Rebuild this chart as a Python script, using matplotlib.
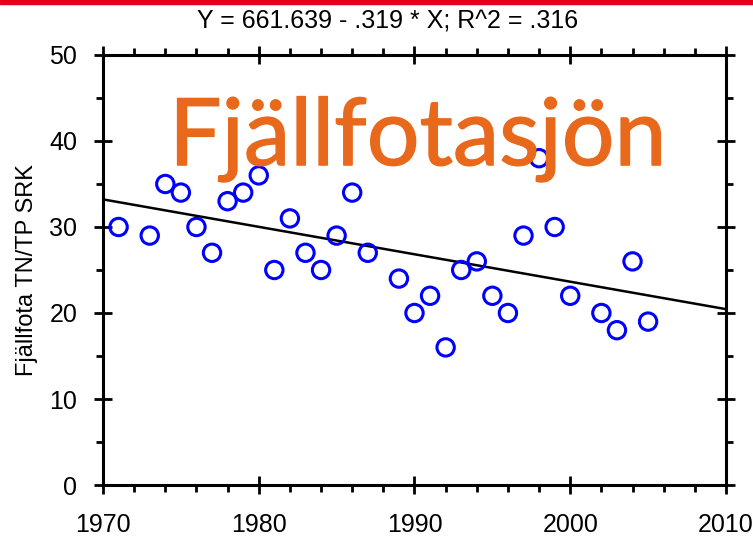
import numpy as np
import matplotlib.pyplot as plt
import matplotlib.patheffects as pe
from matplotlib.patches import Rectangle
from matplotlib.ticker import MultipleLocator

# Sampling years and TN/TP ratios
years = [1971, 1973, 1974, 1975, 1976, 1977, 1978, 1979, 1980, 1981,
         1982, 1983, 1984, 1985, 1986, 1987, 1989, 1990, 1991, 1992,
         1993, 1994, 1995, 1996, 1997, 1998, 1999, 2000, 2002, 2003,
         2004, 2005]
tn_tp = [30, 29, 35, 34, 30, 27, 33, 34, 36, 25,
         31, 27, 25, 29, 34, 27, 24, 20, 22, 16,
         25, 26, 22, 20, 29, 38, 30, 22, 20, 18,
         26, 19]

# Regression coefficients
intercept = 661.639
slope = -0.319
r2 = 0.316

lake = "Fjällfotasjön"
ylabel = "Fjällfota TN/TP SRK"

plt.rcParams['font.family'] = ['Liberation Sans', 'DejaVu Sans']

fig = plt.figure(figsize=(7.53, 5.38), dpi=100)
ax = fig.add_axes([0.1368, 0.0985, 0.8273, 0.7993])

ax.scatter(years, tn_tp, s=12.5**2, facecolors='none', edgecolors='#0000FF',
           linewidths=2.2, zorder=3)

xfit = np.array([1970, 2010])
ax.plot(xfit, intercept + slope * xfit, color='black', lw=1.8, zorder=2)

ax.set_xlim(1970, 2010)
ax.set_ylim(0, 50)
ax.xaxis.set_major_locator(MultipleLocator(10))
ax.xaxis.set_minor_locator(MultipleLocator(2))
ax.yaxis.set_major_locator(MultipleLocator(10))
ax.yaxis.set_minor_locator(MultipleLocator(5))

for sp in ax.spines.values():
    sp.set_linewidth(2.2)

ax.tick_params(which='major', direction='inout', length=13, width=2,
               top=True, right=True, labelsize=18)
ax.tick_params(axis='x', which='major', pad=14)
ax.tick_params(axis='y', which='major', pad=12)
ax.tick_params(which='minor', direction='out', length=5, width=2,
               top=True, right=True)

ax.set_ylabel(ylabel, fontsize=17, labelpad=8)

fig.text(388 / 753, 1 - 22 / 538,
         f"Y = {intercept:.3f} - {abs(slope):.3f}".replace("0.", ".")
         + f" * X; R^2 = {r2:.3f}".replace("0.", "."),
         ha='center', va='center', fontsize=18)

# lake name, thickened slightly with a same-colour stroke
orange = '#E8691B'
ax.text(0.106, 0.744, lake, transform=ax.transAxes, fontsize=67,
        family='Lato', color=orange, ha='left', va='baseline', zorder=4,
        path_effects=[pe.Stroke(linewidth=1.0, foreground=orange), pe.Normal()])

fig.add_artist(Rectangle((0, 1 - 4 / 538), 1, 4 / 538, color='#E3001B',
                         transform=fig.transFigure))

fig.savefig("out.png", dpi=100)
